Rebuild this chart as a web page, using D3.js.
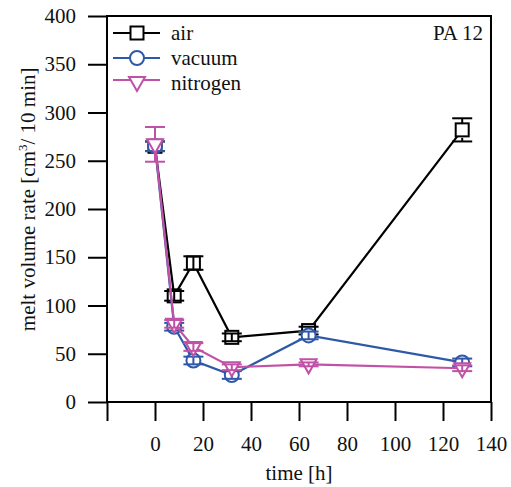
<!DOCTYPE html>
<html>
<head>
<meta charset="utf-8">
<script src="https://cdn.jsdelivr.net/npm/d3@7"></script>
<style>
  body { margin: 0; background: #fff; }
  svg text { font-family: "Liberation Serif", "DejaVu Serif", serif; }
</style>
</head>
<body>
<svg id="chart" width="511" height="487" viewBox="0 0 511 487"></svg>
<script>
// --- Data ---
const times = [0, 8, 16, 32, 64, 128];
const airValues = [265, 110, 144, 67, 74, 282];
const airErrors = [5, 5, 7, 4, 4, 12];
const vacuumValues = [265, 78, 43, 28, 69, 41];
const vacuumErrors = [5, 4, 4, 4, 4, 4];
const nitrogenValues = [267, 81, 57, 36, 39, 35];
const nitrogenErrors = [18, 4, 4, 3, 2, 3];
const seriesNames = ["air", "vacuum", "nitrogen"];
const xTicks = [0, 20, 40, 60, 80, 100, 120, 140];
const yTicks = [0, 50, 100, 150, 200, 250, 300, 350, 400];

const svg = d3.select("#chart");
const FONT = '"Liberation Serif", "DejaVu Serif", serif';
const FS = 21;

const margin = { left: 107, right: 20, top: 16, bottom: 85 };
const width = 511, height = 487;

const x = d3.scaleLinear().domain([-20, 140]).range([margin.left, width - margin.right]);
const y = d3.scaleLinear().domain([0, 400]).range([height - margin.bottom, margin.top]);

const series = [
  { name: seriesNames[0], values: airValues, errors: airErrors, color: "#000000", shape: "square" },
  { name: seriesNames[1], values: vacuumValues, errors: vacuumErrors, color: "#2e58a8", shape: "circle" },
  { name: seriesNames[2], values: nitrogenValues, errors: nitrogenErrors, color: "#c151a6", shape: "triangle" }
];

// --- Axes ---
const yAxis = d3.axisLeft(y).tickValues(yTicks).tickSize(19).tickPadding(12);
const xAxis = d3.axisBottom(x).tickValues([-20].concat(xTicks)).tickSize(19).tickPadding(15)
  .tickFormat(d => d < 0 ? "" : d);

const gy = svg.append("g").attr("transform", `translate(${margin.left},0)`).call(yAxis);
const gx = svg.append("g").attr("transform", `translate(0,${height - margin.bottom})`).call(xAxis);
[gx, gy].forEach(g => {
  g.attr("font-family", FONT).attr("font-size", FS);
  g.select(".domain").remove();
  g.selectAll(".tick line").attr("stroke", "#000").attr("stroke-width", 2);
  g.selectAll(".tick text").attr("fill", "#111");
});

// frame
svg.append("rect")
  .attr("x", margin.left).attr("y", margin.top)
  .attr("width", width - margin.right - margin.left)
  .attr("height", height - margin.bottom - margin.top)
  .attr("fill", "none").attr("stroke", "#000").attr("stroke-width", 2);

// axis titles
svg.append("text")
  .attr("x", x(60)).attr("y", 480)
  .attr("text-anchor", "middle")
  .style("font-size", FS + "px").attr("fill", "#111")
  .text("time [h]");

const yt = svg.append("text")
  .attr("transform", `translate(35,${y(210)}) rotate(-90)`)
  .attr("text-anchor", "middle")
  .style("font-size", FS + "px").attr("fill", "#111");
yt.append("tspan").text("melt volume rate [cm");
yt.append("tspan").attr("dy", -8).style("font-size", "13px").text("3");
yt.append("tspan").attr("dy", 8).text("/ 10 min]");

// --- Marker helper ---
function drawMarker(g, cx, cy, shape, color) {
  if (shape === "square") {
    g.append("rect").attr("x", cx - 6.5).attr("y", cy - 6.5).attr("width", 13).attr("height", 13)
      .attr("fill", "#fff").attr("stroke", color).attr("stroke-width", 2);
  } else if (shape === "circle") {
    g.append("circle").attr("cx", cx).attr("cy", cy).attr("r", 7)
      .attr("fill", "#fff").attr("stroke", color).attr("stroke-width", 2);
  } else {
    g.append("path")
      .attr("d", `M${cx - 8},${cy - 5}L${cx + 8},${cy - 5}L${cx},${cy + 9}Z`)
      .attr("fill", "#fff").attr("stroke", color).attr("stroke-width", 2);
  }
}

// --- Series ---
const line = d3.line().x(d => x(d.t)).y(d => y(d.v));

series.forEach(s => {
  const pts = times.map((t, i) => ({ t: t, v: s.values[i], e: s.errors[i] }));
  const g = svg.append("g");
  g.append("path").datum(pts).attr("d", line)
    .attr("fill", "none").attr("stroke", s.color).attr("stroke-width", 2.2);
  pts.forEach(p => {
    const px = x(p.t), py = y(p.v);
    drawMarker(g, px, py, s.shape, s.color);
    const top = y(p.v + p.e), bot = y(p.v - p.e);
    // long bars stop at the marker edge, short ones cross it
    const segs = (py - top > 9) ? [[top, py - 6], [py + 8, bot]] : [[top, bot]];
    segs.forEach(([a, b]) => {
      g.append("line").attr("x1", px).attr("x2", px).attr("y1", a).attr("y2", b)
        .attr("stroke", s.color).attr("stroke-width", 2);
    });
    [top, bot].forEach(yy => {
      g.append("line").attr("x1", px - 10).attr("x2", px + 10).attr("y1", yy).attr("y2", yy)
        .attr("stroke", s.color).attr("stroke-width", 2);
    });
  });
});

// --- Legend ---
const legendY = [33, 58, 80];
const legendTextY = [40, 65, 90];
series.forEach((s, i) => {
  const g = svg.append("g");
  g.append("line").attr("x1", 113).attr("x2", 160).attr("y1", legendY[i]).attr("y2", legendY[i])
    .attr("stroke", s.color).attr("stroke-width", 2.2);
  drawMarker(g, 137, legendY[i] + (s.shape === "triangle" ? 2 : 0), s.shape, s.color);
  g.append("text").attr("x", 171).attr("y", legendTextY[i])
    .style("font-size", FS + "px").attr("fill", "#111").text(s.name);
});

svg.append("text").attr("x", 483).attr("y", 40).attr("text-anchor", "end")
  .style("font-size", FS + "px").attr("fill", "#111").text("PA 12");
</script>
</body>
</html>
